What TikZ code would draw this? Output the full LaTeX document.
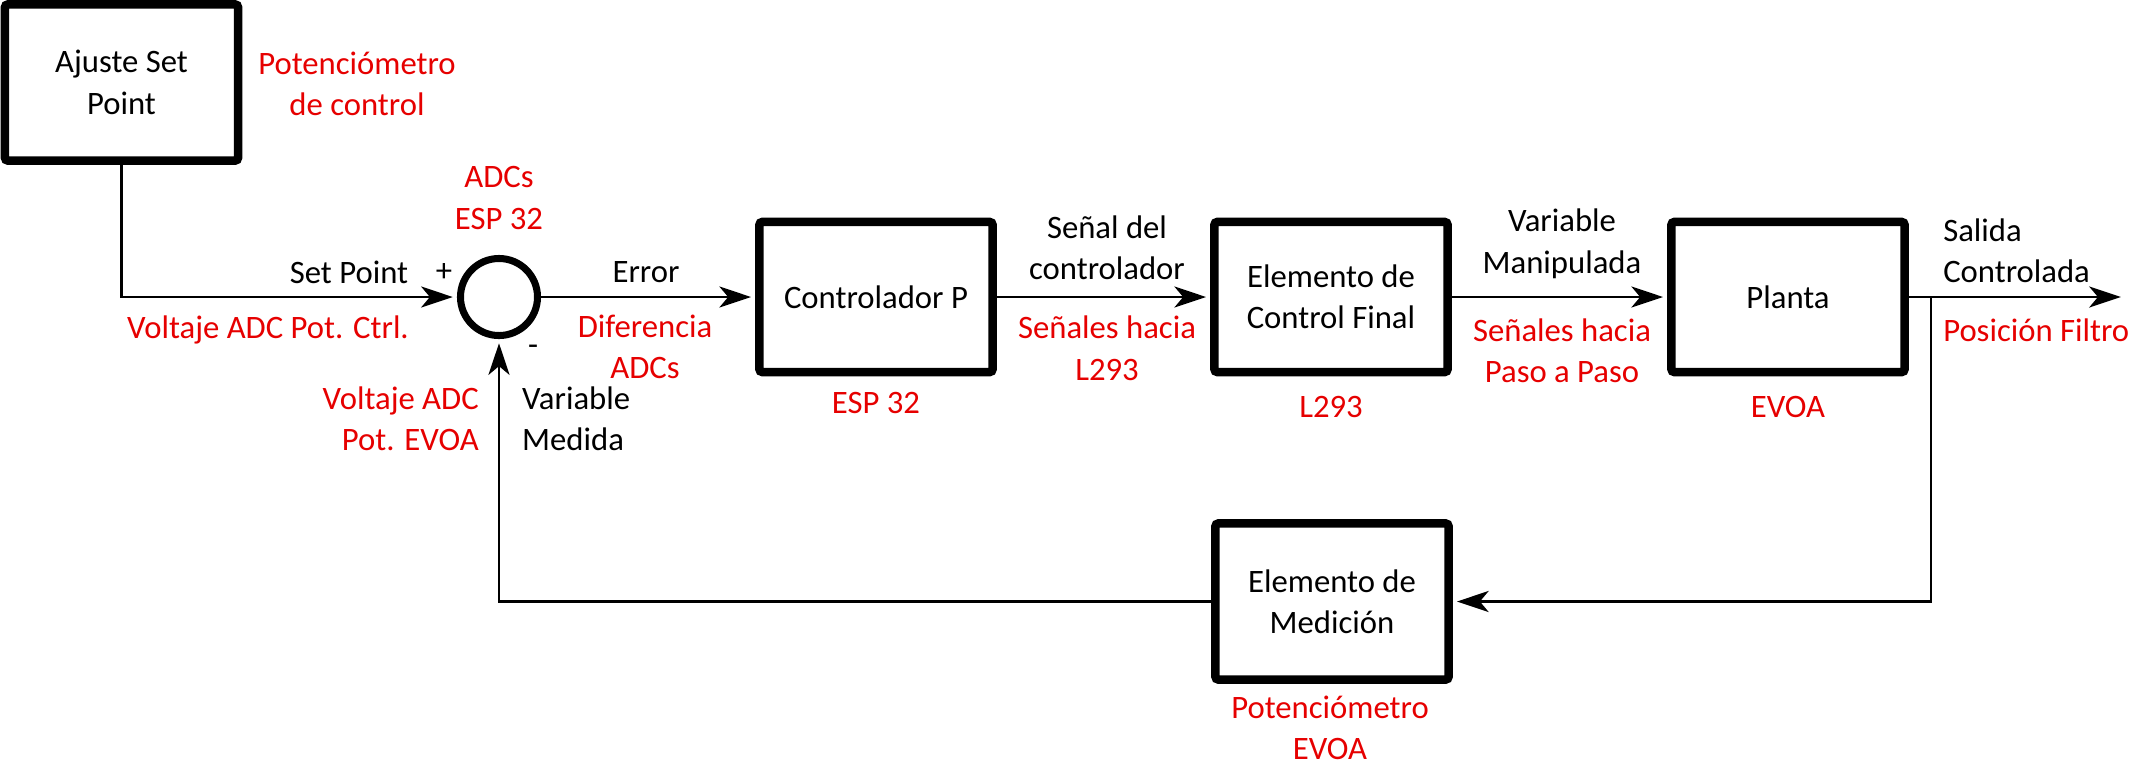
\documentclass[tikz,border=0pt]{standalone}
\usepackage{fontspec}
\setmainfont{Carlito}
\usetikzlibrary{positioning,arrows.meta}
\definecolor{labelred}{RGB}{230,0,0}

\begin{document}
\begin{tikzpicture}[x=0.01cm, y=-0.01cm, line width=0.7pt, shorten >=1.2pt,
  font=\fontsize{9.3}{11.8}\selectfont,
  block/.style={draw=black, line width=2.4pt, rounded corners=0.8pt, minimum width=2.33cm, minimum height=1.5cm, align=center, inner sep=0pt},
  sum_style/.style={circle, draw=black, line width=2pt, minimum size=0.77cm, inner sep=0pt},
  sig/.style={align=center, inner sep=0pt},
  hw/.style={sig, text=labelred},
  edge_style/.style={draw=black, line width=0.7pt, -{Stealth[length=9pt, width=6pt, inset=2.5pt]}}]
  \useasboundingbox (0,0) rectangle (2130,763);

  % bloques
  \node[block, minimum height=1.56cm] (setp) at (121.5, 82.5) {Ajuste Set\\Point};
  \node[sum_style] (sum) at (499, 297) {};
  \node[block] (ctrl) at (876, 297) {Controlador P};
  \node[block] (fce) at (1331, 297) {Elemento de\\Control Final};
  \node[block] (plant) at (1788, 297) {Planta};
  \node[block, minimum height=1.56cm] (meas) at (1332, 601.5) {Elemento de\\Medición};
  \coordinate (out) at (2125, 297);
  \coordinate (branch) at (1931, 297);

  % textos
  \node[hw] (potctrl) at (357, 84) {Potenciómetro\\de control};
  \node[hw] (adcs) at (499, 198) {ADCs\\ESP 32};
  \node[sig] (plus) at (444, 272) {+};
  \node[sig] (minus) at (533, 350) {-};
  \node[sig] (spl) at (349, 272) {Set Point};
  \node[hw] (vpot) at (268, 330) {Voltaje ADC Pot. Ctrl.};
  \node[sig] (err) at (646, 272) {Error};
  \node[hw] (dif) at (645, 347) {Diferencia\\ADCs};
  \node[hw, anchor=east, align=right] (vevoa) at (480, 419) {Voltaje ADC\\Pot. EVOA};
  \node[sig, anchor=west, align=left] (vmed) at (521, 419) {Variable\\Medida};
  \node[hw] (esp) at (876, 403) {ESP 32};
  \node[sig] (senal) at (1107, 248) {Señal del\\controlador};
  \node[hw] (sl293) at (1107, 348) {Señales hacia\\L293};
  \node[hw] (l293) at (1331, 407) {L293};
  \node[sig] (vman) at (1562, 244) {Variable\\Manipulada};
  \node[hw] (spaso) at (1562, 351) {Señales hacia\\Paso a Paso};
  \node[hw] (evoa) at (1788, 407) {EVOA};
  \node[sig, anchor=west, align=left] (sal) at (1942, 251) {Salida\\Controlada};
  \node[hw, anchor=west] (posf) at (1942, 330) {Posición Filtro};
  \node[hw] (potevoa) at (1330, 728) {Potenciómetro\\EVOA};

  % conexiones
  \draw[edge_style] (setp.south) |- (sum.west);
  \draw[edge_style] (sum) -- (ctrl);
  \draw[edge_style] (ctrl) -- (fce);
  \draw[edge_style] (fce) -- (plant);
  \draw[edge_style] (plant) -- (out);
  \draw[edge_style] (branch) |- (meas.east);
  \draw[edge_style] (meas.west) -| (sum.south);
\end{tikzpicture}
\end{document}
